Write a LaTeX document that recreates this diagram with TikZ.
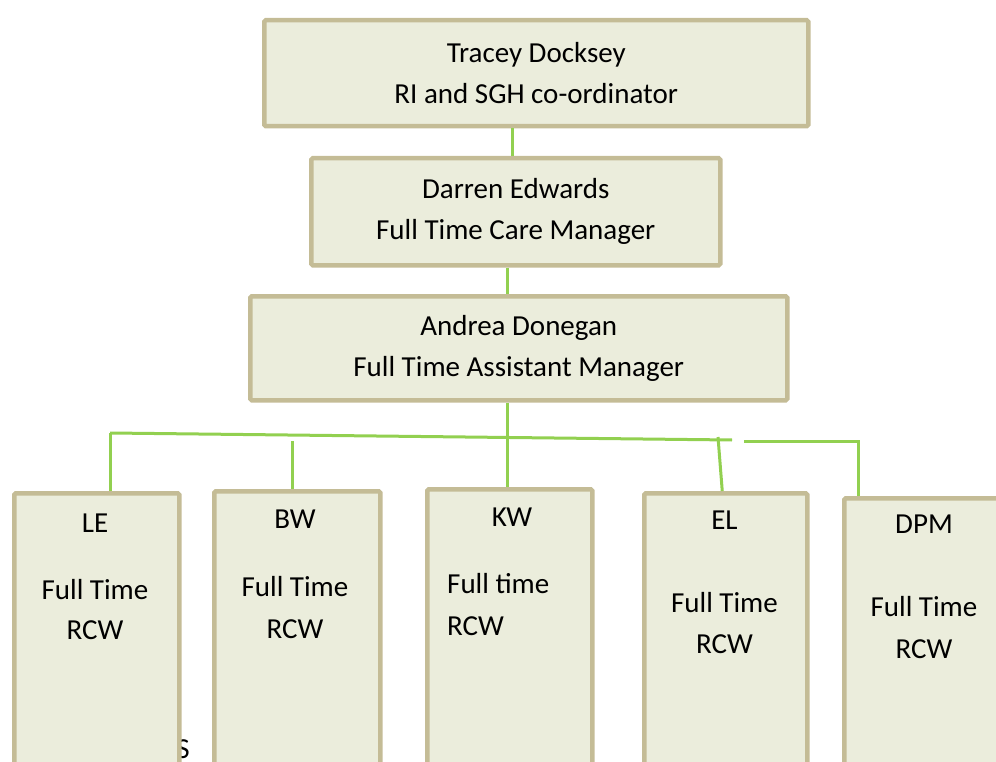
\documentclass[tikz,border=0pt]{standalone}
\usepackage{fontspec}
\setmainfont{Carlito}
\usepackage{tikz}
\definecolor{boxline}{HTML}{C4BC96}
\definecolor{boxfill}{HTML}{EBEDDC}
\definecolor{linkgreen}{HTML}{92D050}
\tikzset{
  post/.style={draw=boxline,fill=boxfill,line width=4.5pt,rounded corners=1.5pt,inner sep=0pt,anchor=north west,align=center,font=\fontsize{29}{41}\selectfont},
  txt/.style={inner sep=0pt,anchor=base,font=\fontsize{29}{41}\selectfont},
  link/.style={draw=linkgreen,line width=3pt}
}

\begin{document}
\begin{tikzpicture}[x=1pt,y=-1pt]
    \useasboundingbox (0,0) rectangle (996,762);
    \clip (0,0) rectangle (996,762);

    \node [txt] (stray) at (183,758) {S};

    \node [post,minimum width=544pt,minimum height=106pt] (tracey) at (262,18) {Tracey Docksey\\RI and SGH co-ordinator};
    \node [post,minimum width=409pt,minimum height=107pt] (darren) at (309,156) {Darren Edwards\\Full Time Care Manager};
    \node [post,minimum width=537pt,minimum height=104pt] (andrea) at (248,294) {Andrea Donegan\\Full Time Assistant Manager};

    \node [post,minimum width=165pt,minimum height=320pt] (le) at (12,491) {};
    \node [post,minimum width=166pt,minimum height=320pt] (bw) at (212,489) {};
    \node [post,minimum width=165pt,minimum height=320pt] (kw) at (425,487) {};
    \node [post,minimum width=163pt,minimum height=320pt] (el) at (642,491) {};
    \node [post,minimum width=200pt,minimum height=320pt] (dpm) at (842,496) {};

    \node [txt] (leid) at (95,532) {LE};
    \node [txt] (lejob) at (95,599) {Full Time};
    \node [txt] (lercw) at (95,639) {RCW};
    \node [txt] (bwid) at (295,528) {BW};
    \node [txt] (bwjob) at (295,596) {Full Time};
    \node [txt] (bwrcw) at (295,638) {RCW};
    \node [txt] (kwid) at (512,526) {KW};
    \node [txt,anchor=base west] (kwjob) at (447,593) {Full time};
    \node [txt,anchor=base west] (kwrcw) at (447,635) {RCW};
    \node [txt] (elid) at (724.5,529) {EL};
    \node [txt] (eljob) at (724.5,612) {Full Time};
    \node [txt] (elrcw) at (724.5,653) {RCW};
    \node [txt] (dpmid) at (924,533) {DPM};
    \node [txt] (dpmjob) at (924,616) {Full Time};
    \node [txt] (dpmrcw) at (924,658) {RCW};

    \coordinate (hub) at (507,436);
    \coordinate (busW) at (110,433);
    \coordinate (busE) at (732,440);
    \coordinate (busE2) at (744,441);
    \coordinate (busF) at (858,441);
    \coordinate (bwtap) at (292,441);
    \coordinate (eltap) at (718,437);

    \draw [link] ([xshift=-3.5pt]darren.north) -- ([xshift=-3.5pt]darren.north |- tracey.south);
    \draw [link] (hub |- darren.south) -- (hub |- andrea.north);
    \draw [link] (hub |- andrea.south) -- (hub);
    \draw [link] (busW) -- (busE);
    \draw [link] (busE2) -- (busF) -- (busF |- dpm.north);
    \draw [link] (busW) -- (busW |- le.north);
    \draw [link] (bwtap) -- (bwtap |- bw.north);
    \draw [link] (hub) -- (hub |- kw.north);
    \draw [link] (eltap) -- ([xshift=-3.5pt]el.north);
\end{tikzpicture}
\end{document}
